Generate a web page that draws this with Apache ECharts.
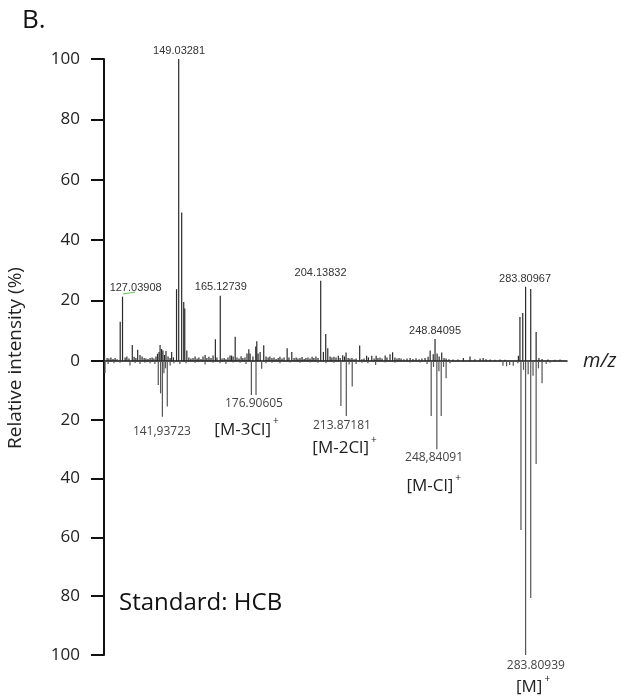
<!DOCTYPE html>
<html>
<head>
<meta charset="utf-8">
<script src="https://cdn.jsdelivr.net/npm/echarts@6/dist/echarts.min.js"></script>
<style>
html,body{margin:0;padding:0;background:#fff;}
#chart{width:626px;height:700px;}
</style>
</head>
<body>
<div id="chart"></div>
<script>
// ---------- DATA ----------
const yTicks = [0, 20, 40, 60, 80, 100];

// Upper spectrum (sample): m/z and relative intensity (%)
const topMz = [120.2,121.2,121.9,122.7,123.5,124.3,125.1,126.3,127.2,128.2,128.9,129.7,131.0,131.7,132.4,133.1,134.0,134.8,135.6,136.3,137.1,137.9,138.7,139.4,140.2,140.8,141.4,141.8,142.4,142.9,143.5,144.1,144.9,145.7,146.3,147.0,148.2,149.04,150.2,151.0,151.4,152.2,153.0,153.8,154.6,155.4,156.2,156.9,157.7,158.5,159.3,160.0,160.8,161.6,162.4,163.3,163.9,165.2,165.9,166.7,167.4,168.2,169.0,169.6,170.2,171.0,171.7,172.5,173.3,174.0,174.8,175.6,176.3,176.8,177.9,179.0,179.4,179.9,180.7,182.1,183.0,183.8,184.5,185.3,186.1,186.9,187.7,188.4,189.2,190.0,191.2,191.9,193.0,193.9,194.7,195.4,196.2,197.0,197.8,198.5,199.3,200.1,200.9,201.6,202.4,203.2,204.25,205.3,206.2,207.0,207.9,208.6,209.4,210.2,211.1,211.8,212.8,213.5,214.1,214.9,215.6,216.4,217.2,218.0,219.4,220.3,221.1,222.1,222.8,224.1,225.0,225.8,226.5,227.3,228.1,229.3,230.0,231.2,232.2,233.1,233.9,234.7,235.5,236.6,237.8,239.0,240.1,241.3,242.5,243.6,244.8,246.0,246.8,248.0,248.7,249.5,250.3,251.3,252.2,253.0,254.1,255.7,257.6,259.7,262.3,264.2,266.2,267.4,268.5,270.1,272.0,274.0,275.9,281.1,281.7,282.8,283.9,285.9,288.0,289.1,290.3,292.6,295.3,297.3];
const topInt = [1.9,1.0,0.8,1.2,0.7,1.0,0.6,13.0,21.3,1.2,1.5,0.8,5.3,1.4,1.0,3.7,2.0,1.5,1.0,0.8,0.7,1.0,1.2,0.8,1.5,2.4,3.0,5.3,4.0,3.5,2.0,3.3,1.5,1.0,3.0,1.2,23.8,100,49.2,19.5,17.4,3.5,1.2,0.8,1.0,1.5,0.8,1.2,0.7,1.5,2.0,1.0,1.4,1.0,1.8,7.2,1.2,21.6,0.8,1.0,0.6,1.2,1.8,1.8,1.5,8.0,1.2,0.8,1.6,1.0,1.2,2.5,3.9,2.5,1.5,4.8,6.5,2.5,3.0,5.2,1.5,1.2,1.5,1.0,1.2,0.7,1.0,1.4,0.8,1.2,4.2,1.2,3.0,1.0,1.2,0.8,1.0,1.3,0.7,1.0,1.2,0.8,1.4,1.0,1.5,1.0,26.6,3.0,8.9,4.2,1.5,1.2,1.4,1.2,1.7,1.0,1.9,1.5,2.8,1.0,0.8,1.0,0.6,0.8,5.1,0.6,0.8,1.7,1.2,1.7,0.8,1.7,1.0,1.2,0.8,1.8,1.2,2.2,2.9,1.2,0.8,1.0,0.8,0.6,0.8,1.0,0.7,0.9,0.6,0.8,1.0,1.4,3.5,2.2,7.3,2.5,1.5,2.8,1.0,0.8,0.6,0.5,0.5,1.0,1.5,0.6,0.8,1.0,0.6,0.5,0.4,0.5,0.4,1.7,14.6,15.9,24.6,23.8,9.6,1.0,0.7,0.5,0.4,0.5];

// Lower spectrum (standard HCB): m/z and relative intensity (%)
const botMz = [120.4,121.6,123.9,126.2,130.1,132.1,134.0,135.9,137.9,139.8,141.1,142.0,142.7,143.3,143.9,144.6,145.7,147.2,149.5,151.9,155.4,159.3,162.4,165.1,167.4,170.2,172.9,175.2,177.3,179.1,181.3,183.0,185.3,188.4,192.3,196.2,200.1,203.2,206.3,209.4,212.1,214.2,215.3,216.5,218.0,220.3,222.6,225.6,229.3,233.1,239.0,242.9,245.6,247.2,248.1,249.4,250.2,251.1,252.0,253.0,254.5,275.1,276.5,277.7,279.1,280.9,282.1,283.1,283.9,284.9,285.9,286.8,288.0,288.9,290.3,291.9,293.4];
const botInt = [4.1,1.0,0.8,0.6,1.5,0.7,1.0,0.6,0.8,1.0,8.2,11.0,19.0,4.2,2.5,15.5,1.5,0.8,1.0,0.8,0.6,1.2,0.6,0.8,1.0,0.5,0.6,1.0,11.6,11.6,2.6,0.8,0.6,0.8,0.5,0.6,0.5,0.6,0.8,0.6,15.3,18.7,1.2,8.7,1.0,0.6,0.8,1.4,0.5,0.6,0.5,0.5,1.0,18.7,2.0,30.0,3.5,18.7,2.0,5.9,0.8,1.6,1.8,1.4,1.6,0.8,57.5,3.0,100,4.5,80.6,5.0,35.0,2.5,7.6,1.0,0.6];

// Peak annotations: text, anchor m/z, anchor intensity
const topLabelText = ['149.03281','127.03908','165.12739','204.13832','248.84095','283.80967'];
const topLabelMz   = [149.2, 132.3, 165.4, 204.2, 248.7, 283.7];
const topLabelInt  = [102.5, 24.3, 24.4, 29.0, 10.0, 27.2];

const botLabelText = ['141,93723','176.90605','213.87181','248,84091','283.80939'];
const botLabelMz   = [142.5, 178.3, 212.5, 248.3, 287.9];
const botLabelInt  = [24.0, 14.4, 21.8, 32.9, 103.7];

const ionText = ['[M-3Cl]', '[M-2Cl]', '[M-Cl]', '[M]'];
const ionMz   = [175.4, 213.5, 248.2, 286.8];
const ionInt  = [22.6, 28.9, 41.8, 110.2];

// ---------- CHART ----------
const chart = echarts.init(document.getElementById('chart'), null, {renderer: 'canvas'});
const FONT = '"Open Sans", "Noto Sans", sans-serif';

function stickSeries(gridIdx, mz, ints, color) {
  return {
    type: 'custom',
    xAxisIndex: gridIdx, yAxisIndex: gridIdx,
    data: mz.map((m, i) => [m, ints[i]]),
    renderItem: function (params, api) {
      const x = api.value(0), v = api.value(1);
      const p0 = api.coord([x, 0]);
      const p1 = api.coord([x, v]);
      return {
        type: 'line',
        shape: {x1: p0[0], y1: p0[1], x2: p1[0], y2: p1[1]},
        style: {stroke: color, lineWidth: 1.2}
      };
    },
    silent: true, animation: false, z: 3
  };
}

function labelSeries(gridIdx, texts, mz, ints, font, color, sup) {
  return {
    type: 'custom',
    xAxisIndex: gridIdx, yAxisIndex: gridIdx,
    data: mz.map((m, i) => [m, ints[i]]),
    clip: false,
    renderItem: function (params, api) {
      const p = api.coord([api.value(0), api.value(1)]);
      const t = texts[params.dataIndex];
      const style = {
        text: sup ? '{m|' + t + '}{s|+}' : t,
        fill: color, font: font,
        align: 'center', verticalAlign: 'middle'
      };
      if (sup) {
        style.rich = {
          m: {fontSize: 17, fontFamily: FONT, color: color, lineHeight: 22, verticalAlign: 'bottom'},
          s: {fontSize: 10, fontFamily: FONT, color: '#555', lineHeight: 11, verticalAlign: 'top', padding: [0, 0, 0, 2]}
        };
      }
      return {type: 'text', x: p[0], y: p[1], style: style};
    },
    silent: true, animation: false, z: 5
  };
}

const axisCommonY = {
  type: 'value', min: 0, max: 100, interval: 20,
  axisLine: {show: true, lineStyle: {color: '#111', width: 2}},
  axisTick: {show: true, inside: false, length: 13, lineStyle: {color: '#111', width: 2}},
  splitLine: {show: false},
};

const option = {
  backgroundColor: '#fff',
  animation: false,
  grid: [
    {left: 104, right: 59, top: 59, height: 302},
    {left: 104, right: 59, top: 361, height: 294}
  ],
  xAxis: [
    {gridIndex: 0, type: 'value', min: 120, max: 300,
     axisLine: {show: true, onZero: true, lineStyle: {color: '#111', width: 1.5}},
     axisTick: {show: false}, axisLabel: {show: false}, splitLine: {show: false},
     name: 'm/z', nameLocation: 'end', nameGap: 16,
     nameTextStyle: {fontFamily: FONT, fontStyle: 'italic', fontSize: 20, color: '#222', verticalAlign: 'middle'}},
    {gridIndex: 1, type: 'value', min: 120, max: 300, show: false}
  ],
  yAxis: [
    Object.assign({gridIndex: 0}, axisCommonY, {
      axisLabel: {fontFamily: FONT, fontSize: 17, color: '#222', margin: 24}
    }),
    Object.assign({gridIndex: 1, inverse: true}, axisCommonY, {
      axisLabel: {fontFamily: FONT, fontSize: 17, color: '#222', margin: 24,
        formatter: v => v === 0 ? '' : String(v)}
    })
  ],
  graphic: [
    {type: 'text', left: 22, top: 8,
     style: {text: 'B.', font: '26px ' + FONT, fill: '#111'}},
    {type: 'text', x: 16, y: 358, rotation: Math.PI / 2,
     style: {text: 'Relative intensity (%)', font: '19px ' + FONT, fill: '#222',
             align: 'center', verticalAlign: 'middle', textAlign: 'center', textVerticalAlign: 'middle'}},
    {type: 'text', x: 119, y: 603,
     style: {text: 'Standard: HCB', font: '24px ' + FONT, fill: '#111',
             align: 'left', verticalAlign: 'middle', textAlign: 'left', textVerticalAlign: 'middle'}},
    {type: 'line', shape: {x1: 123, y1: 294, x2: 135, y2: 292},
     style: {stroke: '#5ac85a', lineWidth: 1}}
  ],
  series: [
    stickSeries(0, topMz, topInt, '#2a2a2a'),
    stickSeries(1, botMz, botInt, '#555'),
    labelSeries(0, topLabelText, topLabelMz, topLabelInt, '11px "Liberation Sans", Arial, sans-serif', '#333', false),
    labelSeries(1, botLabelText, botLabelMz, botLabelInt, '12px ' + FONT, '#444', false),
    labelSeries(1, ionText, ionMz, ionInt, '17px ' + FONT, '#222', true)
  ]
};
chart.setOption(option);
</script>
</body>
</html>
